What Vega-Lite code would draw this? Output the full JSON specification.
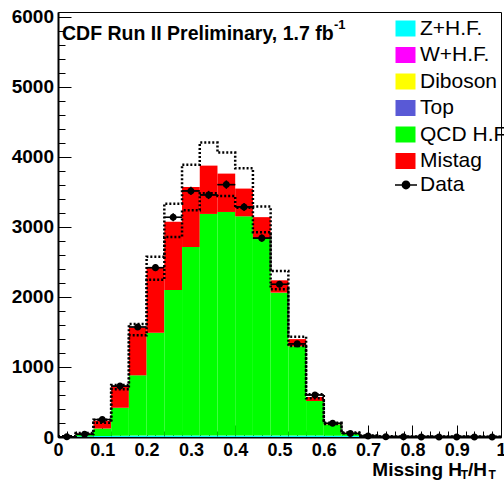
{
  "$schema": "https://vega.github.io/schema/vega-lite/v6.json",
  "width": 443,
  "height": 425,
  "autosize": {"type": "none"},
  "padding": {"left": 58, "top": 12, "right": 3, "bottom": 46},
  "background": "white",
  "config": {
    "view": {"stroke": "black", "strokeWidth": 1},
    "font": "Liberation Sans"
  },
  "datasets": {
    "mc": [
      {"lo": 0.00, "hi": 0.04, "process": "Z+H.F.", "count": 2},
      {"lo": 0.00, "hi": 0.04, "process": "QCD H.F.", "count": 3},
      {"lo": 0.00, "hi": 0.04, "process": "Mistag", "count": 3},
      {"lo": 0.04, "hi": 0.08, "process": "Z+H.F.", "count": 10},
      {"lo": 0.04, "hi": 0.08, "process": "QCD H.F.", "count": 20},
      {"lo": 0.04, "hi": 0.08, "process": "Mistag", "count": 20},
      {"lo": 0.08, "hi": 0.12, "process": "Z+H.F.", "count": 15},
      {"lo": 0.08, "hi": 0.12, "process": "QCD H.F.", "count": 105},
      {"lo": 0.08, "hi": 0.12, "process": "Mistag", "count": 112},
      {"lo": 0.12, "hi": 0.16, "process": "Z+H.F.", "count": 18},
      {"lo": 0.12, "hi": 0.16, "process": "QCD H.F.", "count": 401},
      {"lo": 0.12, "hi": 0.16, "process": "Mistag", "count": 310},
      {"lo": 0.16, "hi": 0.20, "process": "Z+H.F.", "count": 20},
      {"lo": 0.16, "hi": 0.20, "process": "QCD H.F.", "count": 861},
      {"lo": 0.16, "hi": 0.20, "process": "Mistag", "count": 681},
      {"lo": 0.20, "hi": 0.24, "process": "Z+H.F.", "count": 20},
      {"lo": 0.20, "hi": 0.24, "process": "QCD H.F.", "count": 1470},
      {"lo": 0.20, "hi": 0.24, "process": "Mistag", "count": 939},
      {"lo": 0.24, "hi": 0.28, "process": "Z+H.F.", "count": 20},
      {"lo": 0.24, "hi": 0.28, "process": "QCD H.F.", "count": 2080},
      {"lo": 0.24, "hi": 0.28, "process": "Mistag", "count": 976},
      {"lo": 0.28, "hi": 0.32, "process": "Z+H.F.", "count": 20},
      {"lo": 0.28, "hi": 0.32, "process": "QCD H.F.", "count": 2694},
      {"lo": 0.28, "hi": 0.32, "process": "Mistag", "count": 857},
      {"lo": 0.32, "hi": 0.36, "process": "Z+H.F.", "count": 20},
      {"lo": 0.32, "hi": 0.36, "process": "QCD H.F.", "count": 3166},
      {"lo": 0.32, "hi": 0.36, "process": "Mistag", "count": 690},
      {"lo": 0.36, "hi": 0.40, "process": "Z+H.F.", "count": 20},
      {"lo": 0.36, "hi": 0.40, "process": "QCD H.F.", "count": 3194},
      {"lo": 0.36, "hi": 0.40, "process": "Mistag", "count": 548},
      {"lo": 0.40, "hi": 0.44, "process": "Z+H.F.", "count": 20},
      {"lo": 0.40, "hi": 0.44, "process": "QCD H.F.", "count": 3132},
      {"lo": 0.40, "hi": 0.44, "process": "Mistag", "count": 396},
      {"lo": 0.44, "hi": 0.48, "process": "Z+H.F.", "count": 20},
      {"lo": 0.44, "hi": 0.48, "process": "QCD H.F.", "count": 2820},
      {"lo": 0.44, "hi": 0.48, "process": "Mistag", "count": 300},
      {"lo": 0.48, "hi": 0.52, "process": "Z+H.F.", "count": 20},
      {"lo": 0.48, "hi": 0.52, "process": "QCD H.F.", "count": 2042},
      {"lo": 0.48, "hi": 0.52, "process": "Mistag", "count": 176},
      {"lo": 0.52, "hi": 0.56, "process": "Z+H.F.", "count": 20},
      {"lo": 0.52, "hi": 0.56, "process": "QCD H.F.", "count": 1275},
      {"lo": 0.52, "hi": 0.56, "process": "Mistag", "count": 103},
      {"lo": 0.56, "hi": 0.60, "process": "Z+H.F.", "count": 20},
      {"lo": 0.56, "hi": 0.60, "process": "QCD H.F.", "count": 494},
      {"lo": 0.56, "hi": 0.60, "process": "Mistag", "count": 59},
      {"lo": 0.60, "hi": 0.64, "process": "Z+H.F.", "count": 18},
      {"lo": 0.60, "hi": 0.64, "process": "QCD H.F.", "count": 162},
      {"lo": 0.60, "hi": 0.64, "process": "Mistag", "count": 12},
      {"lo": 0.64, "hi": 0.68, "process": "Z+H.F.", "count": 15},
      {"lo": 0.64, "hi": 0.68, "process": "QCD H.F.", "count": 40},
      {"lo": 0.64, "hi": 0.68, "process": "Mistag", "count": 5},
      {"lo": 0.68, "hi": 0.72, "process": "Z+H.F.", "count": 12},
      {"lo": 0.68, "hi": 0.72, "process": "QCD H.F.", "count": 6},
      {"lo": 0.68, "hi": 0.72, "process": "Mistag", "count": 2},
      {"lo": 0.72, "hi": 0.76, "process": "Z+H.F.", "count": 10},
      {"lo": 0.76, "hi": 0.80, "process": "Z+H.F.", "count": 8},
      {"lo": 0.80, "hi": 0.84, "process": "Z+H.F.", "count": 8},
      {"lo": 0.84, "hi": 0.88, "process": "Z+H.F.", "count": 8},
      {"lo": 0.88, "hi": 0.92, "process": "Z+H.F.", "count": 8},
      {"lo": 0.92, "hi": 0.96, "process": "Z+H.F.", "count": 8},
      {"lo": 0.96, "hi": 1.00, "process": "Z+H.F.", "count": 5}
    ],
    "bins": [
      {"lo": 0.00, "hi": 0.04, "center": 0.02, "data": 3, "err": 2},
      {"lo": 0.04, "hi": 0.08, "center": 0.06, "data": 38, "err": 6},
      {"lo": 0.08, "hi": 0.12, "center": 0.10, "data": 250, "err": 16},
      {"lo": 0.12, "hi": 0.16, "center": 0.14, "data": 727, "err": 27},
      {"lo": 0.16, "hi": 0.20, "center": 0.18, "data": 1571, "err": 40},
      {"lo": 0.20, "hi": 0.24, "center": 0.22, "data": 2419, "err": 49},
      {"lo": 0.24, "hi": 0.28, "center": 0.26, "data": 3138, "err": 56},
      {"lo": 0.28, "hi": 0.32, "center": 0.30, "data": 3514, "err": 59},
      {"lo": 0.32, "hi": 0.36, "center": 0.34, "data": 3457, "err": 59},
      {"lo": 0.36, "hi": 0.40, "center": 0.38, "data": 3605, "err": 60},
      {"lo": 0.40, "hi": 0.44, "center": 0.42, "data": 3286, "err": 57},
      {"lo": 0.44, "hi": 0.48, "center": 0.46, "data": 2840, "err": 53},
      {"lo": 0.48, "hi": 0.52, "center": 0.50, "data": 2181, "err": 47},
      {"lo": 0.52, "hi": 0.56, "center": 0.54, "data": 1330, "err": 36},
      {"lo": 0.56, "hi": 0.60, "center": 0.58, "data": 600, "err": 24},
      {"lo": 0.60, "hi": 0.64, "center": 0.62, "data": 196, "err": 14},
      {"lo": 0.64, "hi": 0.68, "center": 0.66, "data": 50, "err": 7},
      {"lo": 0.68, "hi": 0.72, "center": 0.70, "data": 14, "err": 4},
      {"lo": 0.72, "hi": 0.76, "center": 0.74, "data": 4, "err": 2},
      {"lo": 0.76, "hi": 0.80, "center": 0.78, "data": 2, "err": 1},
      {"lo": 0.80, "hi": 0.84, "center": 0.82, "data": 1, "err": 1},
      {"lo": 0.84, "hi": 0.88, "center": 0.86, "data": 1, "err": 1},
      {"lo": 0.88, "hi": 0.92, "center": 0.90, "data": 0, "err": 0},
      {"lo": 0.92, "hi": 0.96, "center": 0.94, "data": 1, "err": 1},
      {"lo": 0.96, "hi": 1.00, "center": 0.98, "data": 0, "err": 0}
    ],
    "band": [
      {"edge": 0.00, "up": 10, "dn": 6},
      {"edge": 0.04, "up": 57, "dn": 42},
      {"edge": 0.08, "up": 248, "dn": 205},
      {"edge": 0.12, "up": 743, "dn": 681},
      {"edge": 0.16, "up": 1615, "dn": 1453},
      {"edge": 0.20, "up": 2576, "dn": 2246},
      {"edge": 0.24, "up": 3333, "dn": 2857},
      {"edge": 0.28, "up": 3890, "dn": 3238},
      {"edge": 0.32, "up": 4205, "dn": 3480},
      {"edge": 0.36, "up": 4062, "dn": 3443},
      {"edge": 0.40, "up": 3838, "dn": 3276},
      {"edge": 0.44, "up": 3291, "dn": 2926},
      {"edge": 0.48, "up": 2371, "dn": 2110},
      {"edge": 0.52, "up": 1433, "dn": 1300},
      {"edge": 0.56, "up": 610, "dn": 552},
      {"edge": 0.60, "up": 205, "dn": 185},
      {"edge": 0.64, "up": 64, "dn": 52},
      {"edge": 0.68, "up": 22, "dn": 17},
      {"edge": 0.72, "up": 9, "dn": 7},
      {"edge": 0.76, "up": 8, "dn": 7},
      {"edge": 0.80, "up": 8, "dn": 7},
      {"edge": 0.84, "up": 8, "dn": 7},
      {"edge": 0.88, "up": 8, "dn": 7},
      {"edge": 0.92, "up": 8, "dn": 7},
      {"edge": 0.96, "up": 5, "dn": 4},
      {"edge": 1.00, "up": 5, "dn": 4}
    ]
  },
  "layer": [
    {
      "data": {"name": "mc"},
      "transform": [
        {"stack": "count", "groupby": ["lo"], "as": ["s0", "s1"]}
      ],
      "mark": {"type": "rect", "strokeWidth": 0},
      "encoding": {
        "x": {
          "field": "lo", "type": "quantitative",
          "scale": {"domain": [0, 1], "nice": false, "zero": false},
          "axis": {
            "orient": "bottom",
            "values": [0, 0.1, 0.2, 0.3, 0.4, 0.5, 0.6, 0.7, 0.8, 0.9, 1],
            "format": ".1~f",
            "title": null, "grid": false,
            "domainColor": "black", "domainWidth": 2,
            "tickColor": "black", "tickSize": -12, "tickWidth": 1,
            "labelFont": "Liberation Sans", "labelFontWeight": "bold", "labelFontSize": 18,
            "labelColor": "black", "labelPadding": 16.5, "labelFlush": false, "labelOverlap": false
          }
        },
        "x2": {"field": "hi"},
        "y": {
          "field": "s0", "type": "quantitative",
          "scale": {"domain": [0, 6070], "nice": false, "zero": true},
          "axis": {
            "orient": "left",
            "values": [0, 1000, 2000, 3000, 4000, 5000, 6000],
            "format": "d",
            "title": null, "grid": false,
            "domainColor": "black", "domainWidth": 2,
            "tickColor": "black", "tickSize": -13, "tickWidth": 1,
            "labelFont": "Liberation Sans", "labelFontWeight": "bold", "labelFontSize": 19,
            "labelColor": "black", "labelPadding": 17.5, "labelFlush": false, "labelOverlap": false
          }
        },
        "y2": {"field": "s1"},
        "fill": {
          "field": "process", "type": "nominal",
          "scale": {
            "domain": ["Z+H.F.", "W+H.F.", "Diboson", "Top", "QCD H.F.", "Mistag"],
            "range": ["#00FFFF", "#FF00FF", "#FFFF00", "#5959D6", "#00FF00", "#FF0000"]
          },
          "legend": {
            "orient": "none", "legendX": 337, "legendY": 6,
            "title": null, "padding": 0,
            "symbolType": "M-1,-0.8H1V0.8H-1Z", "symbolSize": 400,
            "symbolStrokeWidth": 0, "symbolOpacity": 1,
            "labelFont": "Liberation Sans", "labelFontSize": 21, "labelColor": "black",
            "labelOffset": 4, "rowPadding": 4.5
          }
        }
      }
    },
    {
      "data": {"name": "band"},
      "transform": [{"fold": ["up", "dn"], "as": ["side", "val"]}],
      "mark": {"type": "line", "interpolate": "step-after", "color": "black", "strokeWidth": 2.5, "strokeDash": [2, 2]},
      "encoding": {
        "x": {
          "field": "edge", "type": "quantitative",
          "axis": {
            "orient": "bottom",
            "values": [0.02, 0.04, 0.06, 0.08, 0.12, 0.14, 0.16, 0.18, 0.22, 0.24, 0.26, 0.28, 0.32, 0.34, 0.36, 0.38, 0.42, 0.44, 0.46, 0.48, 0.52, 0.54, 0.56, 0.58, 0.62, 0.64, 0.66, 0.68, 0.72, 0.74, 0.76, 0.78, 0.82, 0.84, 0.86, 0.88, 0.92, 0.94, 0.96, 0.98],
            "labels": false, "domain": false, "title": null, "grid": false,
            "tickColor": "black", "tickSize": -6, "tickWidth": 1
          }
        },
        "y": {
          "field": "val", "type": "quantitative",
          "axis": {
            "orient": "left",
            "values": [200, 400, 600, 800, 1200, 1400, 1600, 1800, 2200, 2400, 2600, 2800, 3200, 3400, 3600, 3800, 4200, 4400, 4600, 4800, 5200, 5400, 5600, 5800],
            "labels": false, "domain": false, "title": null, "grid": false,
            "tickColor": "black", "tickSize": -7, "tickWidth": 1
          }
        },
        "detail": {"field": "side", "type": "nominal"}
      }
    },
    {
      "data": {"name": "bins"},
      "mark": {"type": "rule", "color": "black", "strokeWidth": 1.5},
      "encoding": {
        "x": {"field": "lo", "type": "quantitative", "axis": null},
        "x2": {"field": "hi"},
        "y": {"field": "data", "type": "quantitative", "axis": null}
      }
    },
    {
      "data": {"name": "bins"},
      "mark": {"type": "errorbar", "color": "black", "thickness": 1.5},
      "encoding": {
        "x": {"field": "center", "type": "quantitative", "axis": null},
        "y": {"field": "data", "type": "quantitative", "axis": null},
        "yError": {"field": "err"}
      }
    },
    {
      "data": {"name": "bins"},
      "mark": {"type": "point", "filled": true, "color": "black", "strokeWidth": 0, "opacity": 1, "size": 313},
      "encoding": {
        "x": {"field": "center", "type": "quantitative", "axis": null},
        "y": {"field": "data", "type": "quantitative", "axis": null},
        "shape": {
          "datum": "Data", "type": "nominal",
          "scale": {"domain": ["Data"], "range": ["M-1,-0.07H1V0.07H-1ZM-0.4,0A0.4,0.4,0,1,1,0.4,0A0.4,0.4,0,1,1,-0.4,0Z"]},
          "legend": {
            "orient": "none", "legendX": 337, "legendY": 162,
            "title": null, "padding": 0,
            "symbolSize": 484, "symbolFillColor": "black", "symbolStrokeWidth": 0, "symbolOpacity": 1,
            "labelFont": "Liberation Sans", "labelFontSize": 21, "labelColor": "black",
            "labelOffset": 3
          }
        }
      }
    },
    {
      "data": {"values": [{}]},
      "mark": {"type": "text", "text": "CDF Run II Preliminary, 1.7 fb", "align": "left", "baseline": "alphabetic", "font": "Liberation Sans", "fontWeight": "bold", "fontSize": 19.5, "color": "black"},
      "encoding": {
        "x": {"datum": 0.009, "type": "quantitative", "axis": null},
        "y": {"datum": 5671, "type": "quantitative", "axis": null}
      }
    },
    {
      "data": {"values": [{}]},
      "mark": {"type": "text", "text": "-1", "align": "left", "baseline": "alphabetic", "font": "Liberation Sans", "fontWeight": "bold", "fontSize": 13, "color": "black"},
      "encoding": {
        "x": {"datum": 0.623, "type": "quantitative", "axis": null},
        "y": {"datum": 5821, "type": "quantitative", "axis": null}
      }
    },
    {
      "data": {"values": [{}]},
      "mark": {"type": "text", "text": "Missing H", "align": "left", "baseline": "alphabetic", "font": "Liberation Sans", "fontWeight": "bold", "fontSize": 19, "color": "black"},
      "encoding": {
        "x": {"datum": 0.7095, "type": "quantitative", "axis": null},
        "y": {"datum": -550, "type": "quantitative", "axis": null}
      }
    },
    {
      "data": {"values": [{}]},
      "mark": {"type": "text", "text": "T", "align": "left", "baseline": "alphabetic", "font": "Liberation Sans", "fontWeight": "bold", "fontSize": 12, "color": "black"},
      "encoding": {
        "x": {"datum": 0.9091, "type": "quantitative", "axis": null},
        "y": {"datum": -595, "type": "quantitative", "axis": null}
      }
    },
    {
      "data": {"values": [{}]},
      "mark": {"type": "text", "text": "/H", "align": "left", "baseline": "alphabetic", "font": "Liberation Sans", "fontWeight": "bold", "fontSize": 19, "color": "black"},
      "encoding": {
        "x": {"datum": 0.9255, "type": "quantitative", "axis": null},
        "y": {"datum": -550, "type": "quantitative", "axis": null}
      }
    },
    {
      "data": {"values": [{}]},
      "mark": {"type": "text", "text": "T", "align": "left", "baseline": "alphabetic", "font": "Liberation Sans", "fontWeight": "bold", "fontSize": 12, "color": "black"},
      "encoding": {
        "x": {"datum": 0.972, "type": "quantitative", "axis": null},
        "y": {"datum": -595, "type": "quantitative", "axis": null}
      }
    }
  ],
  "resolve": {"axis": {"x": "independent", "y": "independent"}}
}
